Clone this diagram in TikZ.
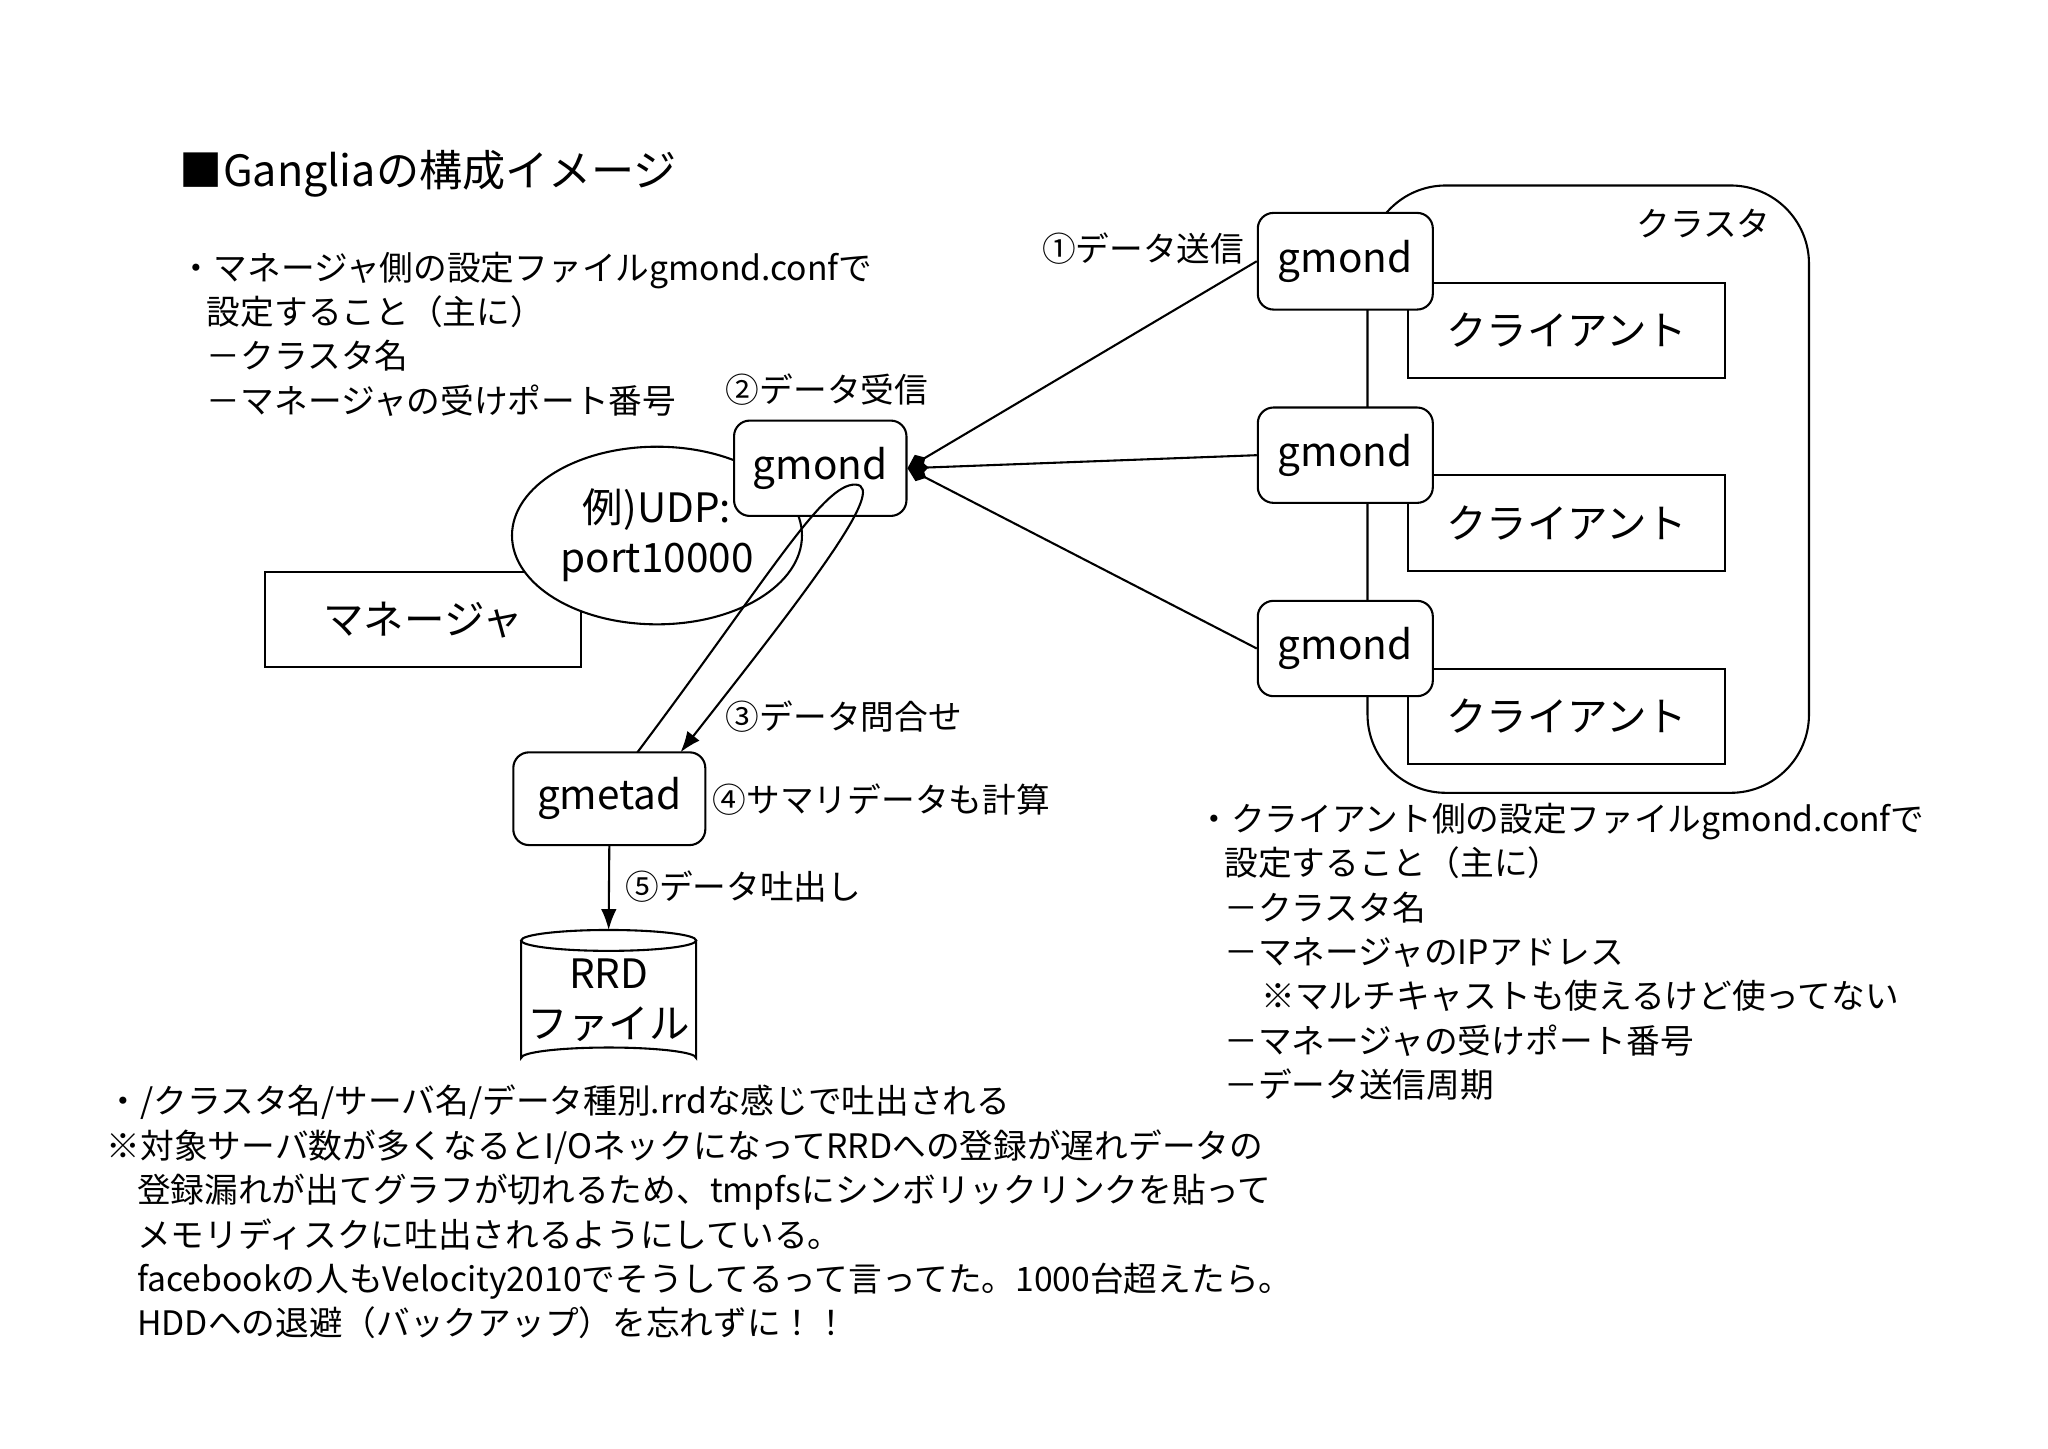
\documentclass[tikz,border=0pt]{standalone}
\usepackage{fontspec}
\setmainfont{Noto Sans CJK JP}
\usetikzlibrary{arrows.meta,shapes.geometric}
\begin{document}
\begin{tikzpicture}[x=0.5pt,y=-0.5pt,line width=0.8pt,
  box/.style={draw,rounded corners=6pt,fill=white,inner sep=0pt},
  sq/.style={draw,fill=white,inner sep=0pt},
  txt/.style={font=\fontsize{12.9}{17}\selectfont,anchor=west,inner sep=0pt,align=left},
  big/.style={font=\fontsize{15.5}{19}\selectfont},
  tip/.style={-{Kite[length=8pt,width=6pt,inset=3pt]}}]
\useasboundingbox (0,0) rectangle (1568,1108.7);
\node[txt,font=\fontsize{16.5}{19}\selectfont] (title) at (137,133) {■Gangliaの構成イメージ};
\node[txt,anchor=north west] (lt) at (137,192) {・マネージャ側の設定ファイルgmond.confで\\
\hspace{0.8em}設定すること（主に）\\
\hspace{0.8em}－クラスタ名\\
\hspace{0.8em}－マネージャの受けポート番号};
\node[txt] (l2) at (555,298) {②データ受信};
% cluster
\draw[rounded corners=30pt] (1047,142) rectangle (1385,607);
\node[txt] (cl) at (1252,171) {クラスタ};
\node[sq,big,minimum width=121.5pt,minimum height=36.5pt] (c1) at (1199.5,253) {クライアント};
\node[sq,big,minimum width=121.5pt,minimum height=36.5pt] (c2) at (1199.5,400.5) {クライアント};
\node[sq,big,minimum width=121.5pt,minimum height=36.5pt] (c3) at (1199.5,548.5) {クライアント};
\node[box,big,minimum width=67pt,minimum height=37pt] (g1) at (1030,200) {gmond};
\node[box,big,minimum width=67pt,minimum height=36.5pt] (g2) at (1030,348.5) {gmond};
\node[box,big,minimum width=67pt,minimum height=36.5pt] (g3) at (1030,496.5) {gmond};
\node[txt] (l1) at (797,190) {①データ送信};
% manager
\node[sq,big,minimum width=121pt,minimum height=36.5pt] (mgr) at (324,474.5) {マネージャ};
\node[ellipse,draw,fill=white,big,minimum width=111pt,minimum height=68pt,align=center,inner sep=0pt] (el) at (503,410) {例)UDP:\\port10000};
\node[box,big,minimum width=66pt,minimum height=36.5pt] (gc) at (628,358.5) {gmond};
\draw[tip] (g1.west) -- (gc.east);
\draw[tip] (g2.west) -- (gc.east);
\draw[tip] (g3.west) -- (gc.east);
% gmetad
\node[box,big,minimum width=73.5pt,minimum height=35.5pt] (gm) at (466.5,611.5) {gmetad};
\coordinate (la) at (488,576);
\coordinate (lb) at (521,576);
\draw[-{Latex[length=8pt,width=6pt]}] (la) .. controls (590,440) and (630,370) .. (655,371) .. controls (680,372) and (620,450) .. (lb);
\node[txt] (l3) at (555,549) {③データ問合せ};
\node[txt] (l4) at (545,612) {④サマリデータも計算};
\node[txt] (l5) at (478,679) {⑤データ吐出し};
% RRD cylinder
\draw[fill=white] (399,720) -- (399,810) arc[start angle=180,end angle=360,x radius=67,y radius=8] -- (533,720);
\draw[fill=white] (466,720) ellipse[x radius=67,y radius=8];
\coordinate (rrdtop) at (466,712);
\node[big,align=center,inner sep=0pt] (rrd) at (466,766) {RRD\\ファイル};
\draw[-{Latex[length=8pt,width=6pt]}] (gm.south) -- (rrdtop);
% right text
\node[txt,anchor=north west] (rt) at (916,614) {・クライアント側の設定ファイルgmond.confで\\
\hspace{0.8em}設定すること（主に）\\
\hspace{0.8em}－クラスタ名\\
\hspace{0.8em}－マネージャのIPアドレス\\
\hspace{1.9em}※マルチキャストも使えるけど使ってない\\
\hspace{0.8em}－マネージャの受けポート番号\\
\hspace{0.8em}－データ送信周期};
% bottom text
\node[txt,anchor=north west] (bt) at (81,830) {・/クラスタ名/サーバ名/データ種別.rrdな感じで吐出される\\
※対象サーバ数が多くなるとI/OネックになってRRDへの登録が遅れデータの\\
\hspace{0.9em}登録漏れが出てグラフが切れるため、tmpfsにシンボリックリンクを貼って\\
\hspace{0.9em}メモリディスクに吐出されるようにしている。\\
\hspace{0.9em}facebookの人もVelocity2010でそうしてるって言ってた。1000台超えたら。\\
\hspace{0.9em}HDDへの退避（バックアップ）を忘れずに！！};
\end{tikzpicture}
\end{document}
